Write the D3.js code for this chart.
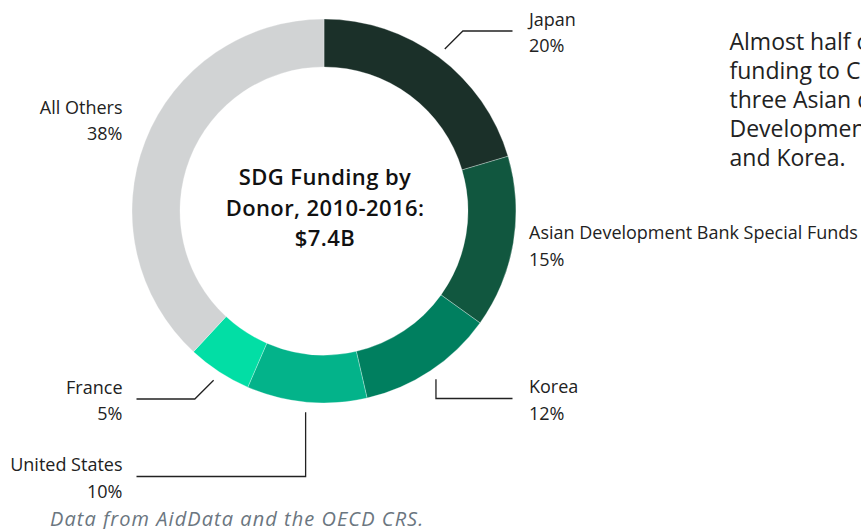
<!DOCTYPE html>
<html>
<head>
<meta charset="utf-8">
<script src="https://cdn.jsdelivr.net/npm/d3@7"></script>
<style>
  html, body { margin: 0; padding: 0; background: #fff; overflow: hidden; }
  svg { display: block; font-family: "Open Sans", sans-serif; }
</style>
</head>
<body>
<svg id="chart" width="861" height="529"></svg>
<script>
// ---- data ----
const donors = ["Japan", "Asian Development Bank Special Funds", "Korea", "United States", "France", "All Others"];
const shares = [20.4, 14.5, 11.5, 10.1, 5.4, 38.1];
const shareLabels = ["20%", "15%", "12%", "10%", "5%", "38%"];
const sliceColors = ["#1b3029", "#11573f", "#007f5f", "#03b38a", "#02dea5", "#d1d3d4"];
const titleLines = ["SDG Funding by", "Donor, 2010-2016:", "$7.4B"];
const noteLines = ["Almost half of SDG", "funding to Cambodia came from", "three Asian donors: the Asian", "Development Bank, Japan,", "and Korea."];
const sourceText = "Data from AidData and the OECD CRS.";

// ---- layout (label anchors: side, vertical anchor, leader style) ----
const labelLayout = [
  { side: "right", y: 31,    leader: "diag" },
  { side: "right", y: 244.5, leader: "none" },
  { side: "right", y: 398.5, leader: "vert" },
  { side: "left",  y: 476.5, leader: "vert" },
  { side: "left",  y: 399,   leader: "diag" },
  { side: "left",  y: 119,   leader: "none" }
];

const W = 861, H = 529;
const cx = 324, cy = 211;
const rOuter = 192, rInner = 144, rLeader = 202;

const svg = d3.select("#chart");
const data = donors.map((d, i) => ({ name: d, value: shares[i], label: shareLabels[i], color: sliceColors[i], layout: labelLayout[i] }));

const pie = d3.pie().sort(null).value(d => d.value).startAngle(0).endAngle(2 * Math.PI);
const arcs = pie(data);
const arc = d3.arc().innerRadius(rInner).outerRadius(rOuter);

const g = svg.append("g").attr("transform", `translate(${cx},${cy})`);
g.selectAll("path.slice")
  .data(arcs)
  .join("path")
  .attr("class", "slice")
  .attr("d", arc)
  .attr("fill", d => d.data.color)
  .attr("stroke", "#ffffff")
  .attr("stroke-width", 0.6)
  .attr("stroke-opacity", 0.5);

// ---- leader lines ----
const leftX = 136.5, rightX = 512.5;
arcs.forEach(a => {
  const L = a.data.layout;
  if (L.leader === "none") return;
  const mid = (a.startAngle + a.endAngle) / 2;
  const sx = cx + rLeader * Math.sin(mid);
  const sy = cy - rLeader * Math.cos(mid);
  let ex;
  if (L.leader === "diag") {
    const dy = Math.abs(L.y - sy);
    ex = sx + (L.side === "right" ? dy : -dy);
  } else {
    ex = sx;
  }
  const endX = L.side === "right" ? rightX : leftX;
  svg.append("path")
    .attr("d", d3.line()([[sx, sy], [ex, L.y], [endX, L.y]]))
    .attr("fill", "none")
    .attr("stroke", "#222")
    .attr("stroke-width", 1.3);
});

// ---- labels ----
arcs.forEach(a => {
  const L = a.data.layout;
  const t = svg.append("text")
    .attr("font-size", 18)
    .attr("fill", "#222")
    .attr("text-anchor", L.side === "right" ? "start" : "end");
  const x = L.side === "right" ? 529 : 122.5;
  t.append("tspan").attr("x", x).attr("y", L.y - 5.5).text(a.data.name);
  t.append("tspan").attr("x", x).attr("y", L.y + 21).text(a.data.label);
});

// ---- center title ----
const title = svg.append("text")
  .attr("text-anchor", "middle")
  .attr("font-size", 22)
  .attr("font-weight", 600)
  .attr("letter-spacing", 0.4)
  .attr("fill", "#111");
titleLines.forEach((s, i) => {
  title.append("tspan").attr("x", cx + 1).attr("y", 185 + i * 30.5).text(s);
});

// ---- side note ----
const note = svg.append("text")
  .attr("font-size", 23)
  .attr("fill", "#222");
noteLines.forEach((s, i) => {
  note.append("tspan").attr("x", 729.5).attr("y", 49.5 + i * 29.1).text(s);
});

// ---- source ----
svg.append("text")
  .attr("x", 50)
  .attr("y", 525.5)
  .attr("font-size", 20)
  .attr("font-style", "italic")
  .attr("letter-spacing", 1.05)
  .attr("fill", "#6b7680")
  .text(sourceText);
</script>
</body>
</html>
